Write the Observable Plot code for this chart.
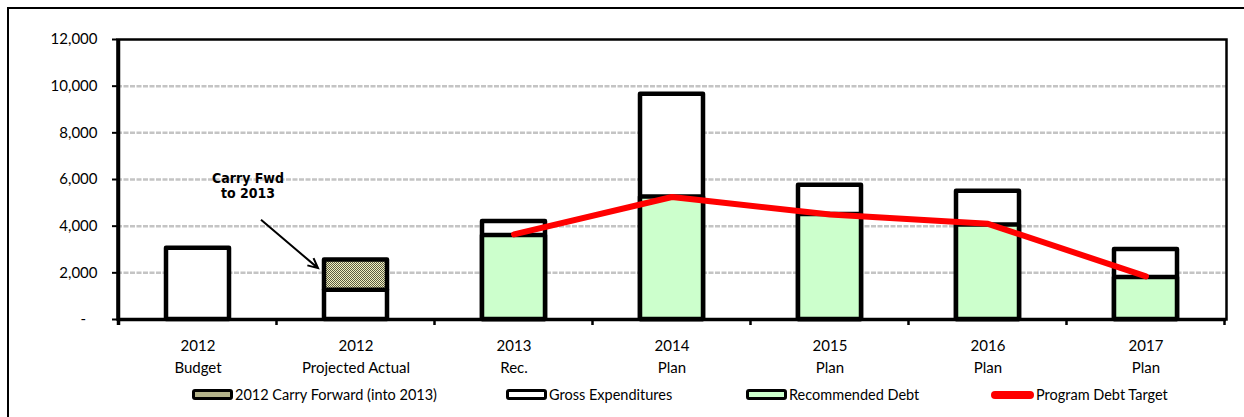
<!DOCTYPE html>
<html>
<head>
<meta charset="utf-8">
<script src="https://cdn.jsdelivr.net/npm/d3@7"></script>
<script src="https://cdn.jsdelivr.net/npm/@observablehq/plot@0.6"></script>
<style>
  html, body { margin: 0; padding: 0; background: #fff; width: 1244px; height: 417px; overflow: hidden; }
  #border { position: absolute; left: 7px; top: 7px; width: 1250px; height: 420px; border: 2.5px solid #000; box-sizing: border-box; }
  #chart { position: absolute; left: 0; top: 0; }
  #legend { position: absolute; left: 0; top: 386px; width: 1244px; height: 20px;
            font-family: Lato, "Open Sans", sans-serif; font-size: 14.5px; color: #000; }
  .item { position: absolute; top: 0; display: flex; align-items: center; white-space: nowrap; }
  .sw { display: inline-block; width: 35px; height: 5px; border: 3px solid #000; border-radius: 3px; margin-right: 2px; }
  .sw.line { width: 43px; height: 8px; border: none; border-radius: 4px; background: #ff0000; }
</style>
</head>
<body>
<div id="border"></div>
<div id="chart"></div>
<div id="legend"></div>
<script>
// ---- data ----
const categories = ["2012\nBudget", "2012\nProjected Actual", "2013\nRec.", "2014\nPlan", "2015\nPlan", "2016\nPlan", "2017\nPlan"];
const grossExpenditures = [3050, 1250, 4200, 9650, 5750, 5500, 3000];
const carryForward = [null, 1300, null, null, null, null, null];
const recommendedDebt = [null, null, 3600, 5250, 4500, 4050, 1800];
const programDebtTarget = [null, null, 3650, 5250, 4500, 4100, 1850];
const yTicks = [0, 2000, 4000, 6000, 8000, 10000, 12000];
const seriesNames = ["2012 Carry Forward (into 2013)", "Gross Expenditures", "Recommended Debt", "Program Debt Target"];
const annotationLines = ["Carry Fwd", "to 2013"];

const rows = categories.map((c, i) => ({
  c, gross: grossExpenditures[i], carry: carryForward[i], debt: recommendedDebt[i], target: programDebtTarget[i]
}));

const fmt = d3.format(",");
const plot = Plot.plot({
  width: 1244,
  height: 380,
  marginLeft: 117,
  marginRight: 18,
  marginTop: 39,
  marginBottom: 61,
  style: { fontFamily: "Lato, 'Open Sans', sans-serif", fontSize: "15px", color: "#000", background: "transparent" },
  x: { domain: categories, paddingInner: 0.6, paddingOuter: 0.3, label: null },
  y: { domain: [0, 12000], label: null },
  marks: [
    Plot.gridY(yTicks.filter(v => v > 0 && v < 12000), { stroke: "#c4c4c4", strokeOpacity: 1, strokeWidth: 2.5, strokeDasharray: "5,1.5" }),
    Plot.barY(rows, { x: "c", y1: 0, y2: "gross", fill: "#fff", stroke: "#000", strokeWidth: 4.5, strokeLinejoin: "round" }),
    Plot.barY(rows.filter(d => d.carry != null), { x: "c", y1: "gross", y2: d => d.gross + d.carry, fill: "url(#cfPattern)", stroke: "#000", strokeWidth: 4.5, strokeLinejoin: "round" }),
    Plot.barY(rows.filter(d => d.debt != null), { x: "c", y1: 0, y2: "debt", fill: "#ccffcc", stroke: "#000", strokeWidth: 4.5, strokeLinejoin: "round" }),
    Plot.line(rows.filter(d => d.target != null), { x: "c", y: "target", stroke: "#ff0000", strokeWidth: 6, strokeLinecap: "round", strokeLinejoin: "round" }),
    Plot.frame({ stroke: "#000", strokeWidth: 2.5 }),
    Plot.ruleY([0], { stroke: "#000", strokeWidth: 3.5 }),
    Plot.axisY({ ticks: yTicks, tickSize: 5, tickPadding: 15, strokeWidth: 2,
      tickFormat: d => d === 0 ? "-\u00a0\u00a0\u00a0" : fmt(d) }),
    Plot.axisX({ tickSize: 0, tickPadding: 16, lineHeight: 1.47, tickFormat: d => d })
  ]
});
document.getElementById("chart").appendChild(plot);

// pattern for carry forward
const svg = d3.select(plot);
const defs = svg.insert("defs", ":first-child");
const pat = defs.append("pattern").attr("id", "cfPattern").attr("patternUnits", "userSpaceOnUse").attr("width", 2).attr("height", 2);
pat.append("rect").attr("width", 2).attr("height", 2).attr("fill", "#f2f1c2");
pat.append("rect").attr("width", 1).attr("height", 1).attr("fill", "#5c5c42");
pat.append("rect").attr("x", 1).attr("y", 1).attr("width", 1).attr("height", 1).attr("fill", "#5c5c42");

// x-axis boundary ticks, and left-axis thickening, from the library's scales
const xs = plot.scale("x"), ys = plot.scale("y");
const step = xs.step, bw = xs.bandwidth;
const x0 = xs.apply(categories[0]) - (step - bw) / 2;
const yBase = ys.apply(0), yTop = ys.apply(12000);
const g = svg.append("g");
for (let k = 0; k <= categories.length; k++) {
  const xx = x0 + k * step;
  g.append("line").attr("x1", xx).attr("x2", xx).attr("y1", yBase).attr("y2", yBase + 6)
    .attr("stroke", "#000").attr("stroke-width", 2.5);
}
g.append("line").attr("x1", x0).attr("x2", x0).attr("y1", yTop).attr("y2", yBase + 6)
  .attr("stroke", "#000").attr("stroke-width", 3.5);

// annotation "Carry Fwd to 2013" with arrow, placed relative to the Projected Actual bar
const barLeft = xs.apply(categories[1]);
const tx = barLeft - 76;
const ann = svg.append("g").attr("font-family", "'Liberation Sans Narrow', 'Arial Narrow', 'DejaVu Sans Condensed', sans-serif")
  .attr("font-weight", "bold").attr("font-size", 14).attr("text-anchor", "middle").attr("fill", "#000");
ann.append("text").attr("x", tx).attr("y", ys.apply(6050)).attr("dy", "0.35em").text(annotationLines[0]);
ann.append("text").attr("x", tx).attr("y", ys.apply(5380)).attr("dy", "0.35em").text(annotationLines[1]);
const ax1 = barLeft - 63, ay1 = ys.apply(4250), ax2 = barLeft - 6, ay2 = ys.apply(2180);
const ang = Math.atan2(ay2 - ay1, ax2 - ax1), hl = 11, ha = Math.PI / 7;
svg.append("path")
  .attr("d", `M${ax1},${ay1}L${ax2},${ay2}M${ax2 - hl * Math.cos(ang - ha)},${ay2 - hl * Math.sin(ang - ha)}L${ax2},${ay2}L${ax2 - hl * Math.cos(ang + ha)},${ay2 - hl * Math.sin(ang + ha)}`)
  .attr("fill", "none").attr("stroke", "#000").attr("stroke-width", 2).attr("stroke-linejoin", "miter");

// legend
const legendFills = ["#b4b38a", "#fff", "#ccffcc", null];
const legendLeft = [192, 506, 746, 991];
const legend = d3.select("#legend");
seriesNames.forEach((name, i) => {
  const it = legend.append("div").attr("class", "item").style("left", legendLeft[i] + "px");
  const sw = it.append("span").attr("class", legendFills[i] ? "sw" : "sw line");
  if (legendFills[i]) sw.style("background", legendFills[i]);
  it.append("span").text(name);
});
</script>
</body>
</html>
